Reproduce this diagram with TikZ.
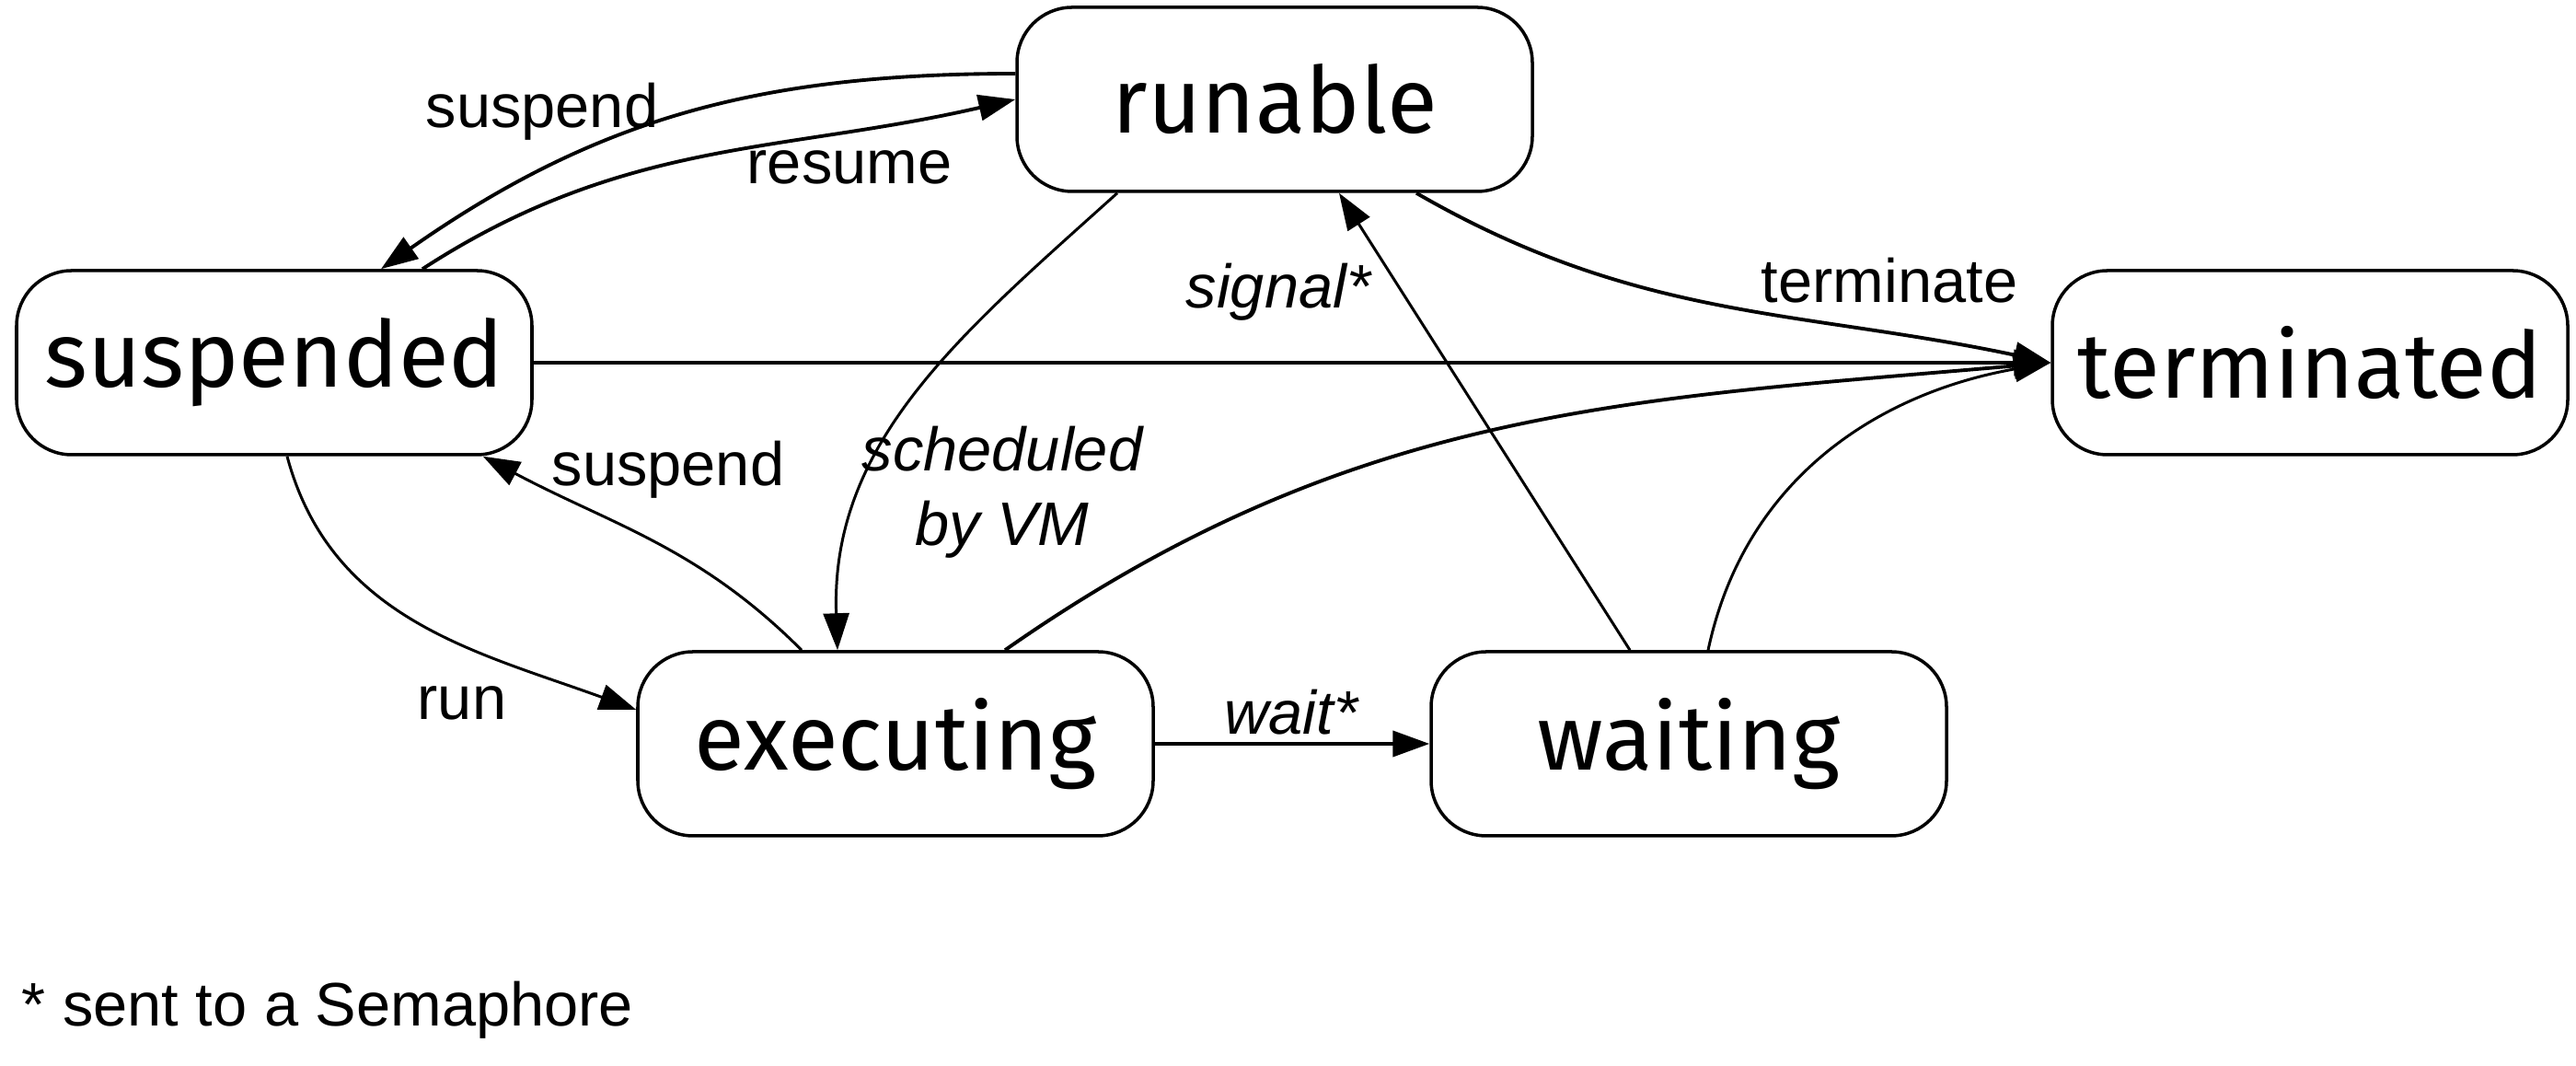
\documentclass[tikz,border=0pt]{standalone}
\usepackage{fontspec}
\setmainfont{Liberation Sans}
\newfontfamily\statefont{Fira Sans}
\usetikzlibrary{arrows.meta}

\begin{document}
\begin{tikzpicture}[
  state/.style={draw,rounded corners=0.6cm,minimum width=5.6cm,minimum height=2cm,
    line width=1pt,inner sep=0pt,font=\statefont\fontsize{28.5}{32}\selectfont},
  edge/.style={line width=0.85pt,-{Triangle[length=0.4cm,width=0.28cm]}},
  thick edge/.style={edge,line width=1.1pt},
  lbl/.style={font=\fontsize{19}{23}\selectfont,inner sep=0pt},
  ilbl/.style={lbl,font=\fontsize{19}{23}\selectfont\itshape}
]
\useasboundingbox (0,0) rectangle (27.99,11.58);

\node[state] (runable) at (13.85,10.50) {runable};
\node[state] (suspended) at (2.98,7.64) {suspended};
\node[state] (terminated) at (25.10,7.64) {terminated};
\node[state] (executing) at (9.73,3.50) {executing};
\node[state] (waiting) at (18.35,3.50) {waiting};

\draw[thick edge] ([yshift=0.28cm]runable.west) to[out=180,in=35] ([xshift=1.16cm]suspended.north);
\draw[thick edge] ([xshift=1.61cm]suspended.north) to[out=33,in=193] (runable.west);
\draw[edge] ([xshift=-1.71cm]runable.south) to[out=222,in=92] ([xshift=-0.63cm]executing.north);
\draw[thick edge] ([xshift=1.54cm]runable.south) to[out=-30,in=168] (terminated.west);
\draw[thick edge] (suspended.east) -- (terminated.west);
\draw[thick edge] ([xshift=1.19cm]executing.north) to[out=35,in=185] (terminated.west);
\draw[edge] ([xshift=0.21cm]waiting.north) to[out=78,in=190] (terminated.west);
\draw[edge] ([xshift=-0.64cm]waiting.north) -- ([xshift=0.70cm]runable.south);
\draw[edge] ([xshift=-1.02cm]executing.north) to[out=135,in=-28] ([xshift=-0.55cm]suspended.south east);
\draw[edge] ([xshift=0.14cm]suspended.south) to[out=-75,in=160] ([yshift=0.37cm]executing.west);
\draw[thick edge] (executing.east) -- (waiting.west);

\node[lbl] (lsuspend) at (5.89,10.37) {suspend};
\node[lbl] (lresume) at (9.23,9.76) {resume};
\node[ilbl,align=center] (lsched) at (10.89,6.23) {scheduled\\by VM};
\node[lbl] (lterm) at (20.53,8.53) {terminate};
\node[ilbl] (lsignal) at (13.89,8.41) {signal*};
\node[lbl] (lsuspend2) at (7.26,6.48) {suspend};
\node[lbl] (lrun) at (5.02,3.94) {run};
\node[ilbl] (lwait) at (14.03,3.84) {wait*};
\node[lbl,anchor=west] (note) at (0.23,0.61) {* sent to a Semaphore};
\end{tikzpicture}
\end{document}
